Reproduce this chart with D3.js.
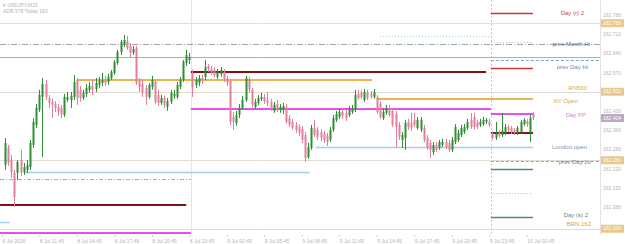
<!DOCTYPE html>
<html>
<head>
<meta charset="utf-8">
<script src="https://cdn.jsdelivr.net/npm/d3@7"></script>
<style>
  body { margin: 0; background: #fff; }
  svg { display: block; font-family: "Liberation Sans", Arial, sans-serif; }
</style>
</head>
<body>
<div id="chart"></div>
<script>
// M15 candles, [open, high, low, close]
const candles = [
  [162.233,162.331,162.215,162.313],[162.295,162.306,162.229,162.240],[162.251,162.269,162.185,162.207],
  [162.204,162.215,162.080,162.116],[162.204,162.251,162.178,162.244],[162.251,162.288,162.193,162.204],
  [162.207,162.240,162.196,162.225],[162.215,162.251,162.204,162.233],[162.225,162.324,162.215,162.313],
  [162.306,162.404,162.295,162.390],[162.379,162.455,162.368,162.441],[162.434,162.507,162.426,162.488],
  [162.481,162.550,162.262,162.528],[162.528,162.543,162.470,162.481],[162.477,162.488,162.441,162.459],
  [162.463,162.474,162.404,162.452],[162.455,162.466,162.426,162.441],[162.444,162.455,162.412,162.426],
  [162.441,162.452,162.404,162.419],[162.415,162.492,162.408,162.481],[162.470,162.499,162.463,162.481],
  [162.470,162.499,162.441,162.485],[162.481,162.561,162.470,162.536],[162.543,162.550,162.452,162.477],
  [162.507,162.521,162.463,162.477],[162.477,162.507,162.470,162.496],[162.492,162.528,162.481,162.514],
  [162.507,162.536,162.496,162.521],[162.521,162.543,162.488,162.507],[162.510,162.550,162.499,162.532],
  [162.525,162.554,162.514,162.539],[162.532,162.569,162.521,162.543],[162.543,162.558,162.521,162.532],
  [162.536,162.565,162.525,162.554],[162.550,162.580,162.543,162.572],[162.569,162.616,162.561,162.609],
  [162.605,162.653,162.598,162.645],[162.645,162.689,162.634,162.682],[162.674,162.707,162.663,162.689],
  [162.685,162.704,162.653,162.660],[162.667,162.678,162.623,162.642],[162.642,162.667,162.634,162.656],
  [162.660,162.667,162.525,162.532],[162.539,162.550,162.499,162.517],[162.528,162.543,162.481,162.496],
  [162.514,162.525,162.452,162.481],[162.481,162.532,162.474,162.525],[162.517,162.558,162.507,162.543],
  [162.536,162.543,162.455,162.463],[162.488,162.507,162.448,162.459],[162.459,162.488,162.452,162.477],
  [162.477,162.485,162.441,162.452],[162.444,162.477,162.430,162.466],[162.463,162.507,162.455,162.496],
  [162.485,162.507,162.474,162.492],[162.481,162.536,162.474,162.525],[162.517,162.554,162.510,162.543],
  [162.543,162.616,162.536,162.609],[162.605,162.653,162.594,162.634],[162.616,162.642,162.601,162.627],
  [162.569,162.580,162.481,162.517],[162.525,162.554,162.514,162.543],[162.532,162.561,162.521,162.550],
  [162.550,162.561,162.528,162.543],[162.554,162.616,162.543,162.590],[162.594,162.601,162.572,162.583],
  [162.583,162.594,162.561,162.569],[162.580,162.590,162.554,162.561],[162.554,162.583,162.547,162.572],
  [162.565,162.590,162.554,162.580],[162.572,162.583,162.536,162.547],[162.547,162.558,162.521,162.532],
  [162.539,162.547,162.379,162.390],[162.408,162.426,162.361,162.390],[162.386,162.430,162.375,162.415],
  [162.415,162.455,162.404,162.441],[162.441,162.485,162.434,162.470],[162.470,162.558,162.463,162.550],
  [162.547,162.554,162.496,162.507],[162.507,162.514,162.441,162.452],[162.444,162.474,162.437,162.463],
  [162.459,162.488,162.452,162.477],[162.474,162.496,162.466,162.481],[162.481,162.492,162.455,162.466],
  [162.470,162.499,162.448,162.459],[162.463,162.474,162.430,162.441],[162.430,162.463,162.423,162.452],
  [162.455,162.470,162.426,162.434],[162.434,162.455,162.423,162.444],[162.434,162.459,162.419,162.448],
  [162.444,162.455,162.382,162.390],[162.404,162.415,162.371,162.379],[162.390,162.401,162.361,162.368],
  [162.379,162.390,162.350,162.361],[162.371,162.382,162.339,162.350],[162.364,162.375,162.313,162.324],
  [162.342,162.353,162.244,162.258],[162.262,162.313,162.255,162.298],[162.295,162.379,162.288,162.368],
  [162.368,162.397,162.335,162.342],[162.361,162.371,162.324,162.335],[162.353,162.364,162.320,162.331],
  [162.346,162.357,162.313,162.324],[162.339,162.350,162.302,162.317],[162.324,162.371,162.317,162.361],
  [162.361,162.415,162.353,162.404],[162.397,162.430,162.390,162.419],[162.408,162.437,162.401,162.426],
  [162.426,162.434,162.401,162.412],[162.423,162.434,162.393,162.404],[162.415,162.448,162.408,162.437],
  [162.426,162.452,162.419,162.441],[162.434,162.507,162.426,162.488],[162.492,162.507,162.470,162.477],
  [162.496,162.507,162.474,162.481],[162.470,162.510,162.463,162.499],[162.496,162.507,162.470,162.477],
  [162.492,162.503,162.474,162.481],[162.481,162.510,162.474,162.499],[162.481,162.488,162.419,162.426],
  [162.455,162.466,162.401,162.408],[162.404,162.441,162.397,162.426],[162.423,162.452,162.415,162.441],
  [162.441,162.452,162.408,162.415],[162.430,162.441,162.371,162.379],[162.419,162.430,162.298,162.371],
  [162.379,162.390,162.324,162.335],[162.324,162.353,162.295,162.342],[162.331,162.397,162.288,162.386],
  [162.390,162.401,162.361,162.371],[162.386,162.423,162.357,162.368],[162.397,162.423,162.371,162.379],
  [162.368,162.408,162.361,162.397],[162.361,162.408,162.353,162.397],[162.368,162.379,162.317,162.324],
  [162.331,162.342,162.288,162.295],[162.313,162.324,162.258,162.288],[162.280,162.317,162.269,162.306],
  [162.306,162.317,162.280,162.288],[162.295,162.324,162.288,162.317],[162.306,162.328,162.298,162.317],
  [162.317,162.328,162.291,162.298],[162.313,162.324,162.280,162.288],[162.288,162.335,162.280,162.324],
  [162.317,162.382,162.309,162.371],[162.324,162.361,162.317,162.350],[162.342,162.379,162.335,162.368],
  [162.353,162.382,162.346,162.371],[162.368,162.401,162.361,162.390],[162.397,162.423,162.364,162.371],
  [162.408,162.423,162.361,162.371],[162.390,162.397,162.364,162.371],[162.379,162.401,162.371,162.390],
  [162.382,162.408,162.375,162.397],[162.390,162.404,162.382,162.397],[162.390,162.401,162.371,162.379],
  [162.350,162.357,162.324,162.331],[162.331,162.390,162.324,162.350],[162.350,162.361,162.331,162.339],
  [162.342,162.423,162.335,162.357],[162.350,162.382,162.342,162.371],[162.371,162.379,162.353,162.361],
  [162.368,162.375,162.346,162.353],[162.361,162.368,162.342,162.350],[162.350,162.375,162.342,162.368],
  [162.353,162.397,162.346,162.390],[162.382,162.404,162.375,162.397],[162.393,162.401,162.371,162.379],
  [162.350,162.415,162.317,162.404],[162.419,162.426,162.397,162.404]
];

// axis labels that show (162.500 and 162.010 sit under the price boxes)
const priceTicks = [162.780, 162.710, 162.640, 162.570, 162.430, 162.360, 162.290, 162.220, 162.150, 162.080];
const roundNumbers = [162.750, 162.500, 162.250, 162.000];
const currentPrice = 162.404;

const timeTickBars = [-1, 11, 23, 35, 47, 59, 71, 83, 95, 107, 119, 131, 143, 155, 167];
const timeTickLabels = ["8 Jul 2026", "8 Jul 11:45", "8 Jul 14:45", "8 Jul 17:45", "8 Jul 20:45", "8 Jul 23:45",
  "9 Jul 02:45", "9 Jul 05:45", "9 Jul 08:45", "9 Jul 11:45", "9 Jul 14:45", "9 Jul 17:45", "9 Jul 20:45",
  "9 Jul 23:45", "10 Jul 02:45"];

const daySeparators = [59.5, 155.5];

// level lines: kind, price, from bar, to bar (null = chart edge)
const levels = [
  ["rn", 162.750, null, null],
  ["rn", 162.500, null, null],
  ["rn", 162.250, null, null],
  ["rn", 162.000, null, null],
  ["monthHi", 162.674, null, null],
  ["weekHi", 162.627, null, null],
  ["prevDots", 162.704, 120, 155.5],
  ["dashDot", 162.182, null, 59.5],
  ["dayOpen", 162.087, null, 58],
  ["dayOpen", 162.572, 59.5, 154],
  ["dayOpen", 162.350, 155.5, 169],
  ["pivot", 161.985, null, 59.5],
  ["pivot", 162.437, 59.5, 155.5],
  ["pivot", 162.419, 155.5, 169],
  ["nyOpen", 162.543, 23, 117.5],
  ["nyOpen", 162.474, 119, 169],
  ["london", 162.025, null, 1.5],
  ["london", 162.207, 6, 97.5],
  ["london", 162.298, 99.5, 169],
  ["res", 162.788, 155.5, 169],
  ["res", 162.587, 155.5, 169],
  ["mid", 162.682, 155.5, 169],
  ["mid", 162.131, 155.5, 169],
  ["sup", 162.218, 155.5, 169],
  ["sup", 162.043, 155.5, 169],
  ["dayHiLo", 162.616, 155.5, null],
  ["dayHiLo", 162.247, 155.5, null]
];

// right-hand labels: text, price
const levelLabels = [
  ["Day (r) 2", 162.788],
  ["prev Month Hi", 162.674],
  ["prev Day Hi", 162.590],
  ["RN500", 162.514],
  ["NY Open", 162.466],
  ["Day PP", 162.415],
  ["London open", 162.298],
  ["prev Day Lo", 162.244],
  ["Day (s) 2", 162.050],
  ["BRN 162", 162.017]
];

// ---- styles ----
const lineStyle = {
  rn:       { stroke: "#e2ddd2", width: 1 },
  monthHi:  { stroke: "#a0a0a8", width: 1, dash: "6,2,1,2" },
  weekHi:   { stroke: "#dc9aa2", width: 1 },
  prevDots: { stroke: "#9fd6d6", width: 1, dash: "1,2" },
  dashDot:  { stroke: "#6cc4c4", width: 1, dash: "4,2,1,2" },
  dayOpen:  { stroke: "#7c1414", width: 2 },
  pivot:    { stroke: "#e650e6", width: 2 },
  nyOpen:   { stroke: "#e6b450", width: 2 },
  london:   { stroke: "#9fd0e8", width: 1.5 },
  res:      { stroke: "#c8383c", width: 1.5 },
  mid:      { stroke: "#bbbbbb", width: 1, dash: "1,2" },
  sup:      { stroke: "#4f8c80", width: 1.5 },
  dayHiLo:  { stroke: "#7aa8bc", width: 1, dash: "3,2" }
};
const labelStyle = {
  "Day (r) 2":     { fill: "#c84848", x: 584 },
  "prev Month Hi": { fill: "#5664a6", x: 590 },
  "prev Day Hi":   { fill: "#6a88b8", x: 588 },
  "RN500":         { fill: "#d8a838", x: 587 },
  "NY Open":       { fill: "#d8a838", x: 578 },
  "Day PP":        { fill: "#c488d4", x: 586 },
  "London open":   { fill: "#7894b8", x: 587 },
  "prev Day Lo":   { fill: "#6a88b8", x: 591 },
  "Day (s) 2":     { fill: "#4f8c80", x: 588 },
  "BRN 162":       { fill: "#d8a838", x: 591 }
};
const upColor = "#2f8f35", downColor = "#e27f9a";

const W = 625, H = 244;
const plotRight = 600, plotBottom = 235;

const svg = d3.select("#chart").append("svg")
  .attr("width", W)
  .attr("height", H);

const x = d3.scaleLinear().domain([0, 169]).range([5, 533]);
const y = d3.scaleLinear().domain([162.010, 162.780]).range([226, 15]);

const plot = svg.append("g");

// day separators
daySeparators.forEach((b, i) => {
  plot.append("line")
    .attr("x1", Math.round(x(b)) + 0.5).attr("x2", Math.round(x(b)) + 0.5)
    .attr("y1", 0).attr("y2", plotBottom)
    .attr("stroke", i === 0 ? "#e4e4e4" : "#c8c8c8")
    .attr("stroke-dasharray", i === 0 ? null : "2,2");
});

// right border of plot
plot.append("line")
  .attr("x1", plotRight + 0.5).attr("x2", plotRight + 0.5)
  .attr("y1", 0).attr("y2", plotBottom)
  .attr("stroke", "#e2e2e2");

// level lines
levels.forEach(([kind, price, from, to]) => {
  const s = lineStyle[kind];
  const yy = Math.round(y(price)) + (s.width % 2 ? 0.5 : 0);
  plot.append("line")
    .attr("x1", from === null ? 0 : x(from))
    .attr("x2", to === null ? plotRight : x(to))
    .attr("y1", yy).attr("y2", yy)
    .attr("stroke", s.stroke)
    .attr("stroke-width", s.width)
    .attr("stroke-dasharray", s.dash || null);
});

// candles
const bars = plot.append("g").selectAll("g")
  .data(candles)
  .join("g");

bars.append("line")
  .attr("x1", (d, i) => Math.round(x(i)) + 0.5)
  .attr("x2", (d, i) => Math.round(x(i)) + 0.5)
  .attr("y1", d => y(d[1]))
  .attr("y2", d => y(d[2]))
  .attr("stroke", d => d[3] >= d[0] ? upColor : downColor)
  .attr("stroke-width", 1);

bars.append("rect")
  .attr("x", (d, i) => Math.round(x(i)) - 0.5)
  .attr("y", d => y(Math.max(d[0], d[3])))
  .attr("width", 2)
  .attr("height", d => Math.max(1, Math.abs(y(d[0]) - y(d[3]))))
  .attr("fill", d => d[3] >= d[0] ? upColor : downColor);

// level labels
svg.append("g").selectAll("text")
  .data(levelLabels)
  .join("text")
  .attr("x", d => labelStyle[d[0]].x)
  .attr("y", d => y(d[1]))
  .attr("dy", "0.35em")
  .attr("text-anchor", "end")
  .attr("font-size", 6)
  .attr("fill", d => labelStyle[d[0]].fill)
  .text(d => d[0]);

// price axis
const yAxis = svg.append("g")
  .attr("transform", `translate(${plotRight},0)`)
  .call(d3.axisRight(y).tickValues(priceTicks).tickFormat(d3.format(".3f")).tickSize(0).tickPadding(3));
yAxis.select(".domain").remove();
yAxis.selectAll("text").attr("font-size", 5).attr("fill", "#b4b4b4").attr("font-family", "Liberation Sans, Arial, sans-serif");

// price boxes for round numbers and current price
const boxes = roundNumbers.map(p => [p, "#e8c88c"]).concat([[currentPrice, "#b9a9c2"]]);
const boxG = svg.append("g").selectAll("g").data(boxes).join("g")
  .attr("transform", d => `translate(${plotRight + 1},${y(d[0])})`);
boxG.append("rect")
  .attr("x", 0).attr("y", -4).attr("width", 23).attr("height", 8)
  .attr("fill", d => d[1]);
boxG.append("text")
  .attr("x", 2).attr("dy", "0.35em")
  .attr("font-size", 5).attr("fill", "#fff")
  .text(d => d3.format(".3f")(d[0]));

// time axis
const xAxis = svg.append("g")
  .attr("transform", `translate(0,${plotBottom})`)
  .call(d3.axisBottom(x).tickValues(timeTickBars).tickFormat((d, i) => timeTickLabels[i]).tickSize(2).tickPadding(2));
xAxis.select(".domain").remove();
xAxis.selectAll(".tick line").attr("stroke", "#d0d0d0");
xAxis.selectAll("text")
  .attr("text-anchor", "start")
  .attr("font-size", 5)
  .attr("fill", "#b4b4b4")
  .attr("font-family", "Liberation Sans, Arial, sans-serif");

// title
svg.append("text").attr("x", 3).attr("y", 7).attr("font-size", 5).attr("fill", "#b4b4b4")
  .text("\u25BE USDJPY,M15");
svg.append("text").attr("x", 3).attr("y", 13).attr("font-size", 5).attr("fill", "#b4b4b4")
  .text("ADR 578  Today 183");
</script>
</body>
</html>
